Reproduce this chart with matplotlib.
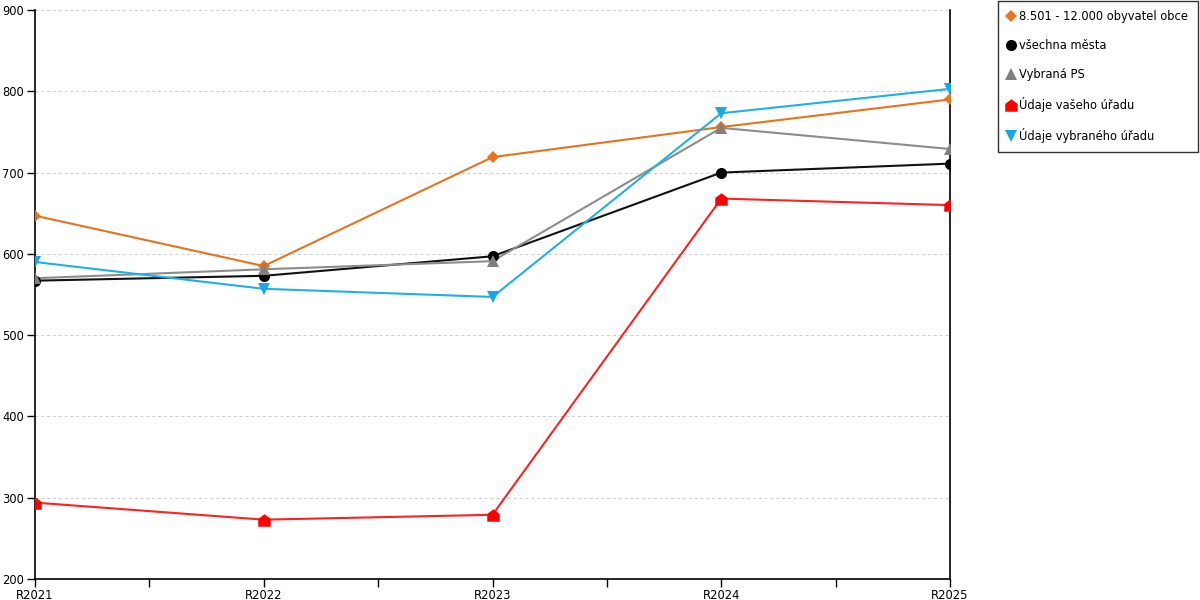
import matplotlib
matplotlib.use("Agg")
import matplotlib.pyplot as plt
from matplotlib.path import Path
from matplotlib.lines import Line2D

categories = ["R2021", "R2022", "R2023", "R2024", "R2025"]
obec = [647, 585, 719, 756, 790]
mesta = [567, 573, 597, 700, 711]
vybrana_ps = [570, 581, 591, 755, 729]
vas_urad = [294, 273, 279, 668, 660]
vybrany_urad = [590, 557, 547, 773, 803]

labels = ["8.501 - 12.000 obyvatel obce", "všechna města", "Vybraná PS",
          "Údaje vašeho úřadu", "Údaje vybraného úřadu"]

house = Path([(-1, -1), (1, -1), (1, 0.25), (0, 1), (-1, 0.25), (-1, -1)],
             [Path.MOVETO, Path.LINETO, Path.LINETO, Path.LINETO, Path.LINETO, Path.CLOSEPOLY])

series = [
    (obec, "#e8731c", "D", 6),
    (mesta, "#000000", "o", 8),
    (vybrana_ps, "#808080", "^", 8),
    (vas_urad, "#ff0000", house, 9),
    (vybrany_urad, "#12a9e6", "v", 9),
]
line_colors = ["#e8731c", "#111111", "#8c8c8c", "#ff2020", "#1fb0ea"]

plt.rcParams['font.family'] = ['DejaVu Sans']
fig = plt.figure(figsize=(12, 6), dpi=100)
ax = fig.add_axes([35 / 1200, 1 - 579 / 600, 915 / 1200, 569 / 600])

x = list(range(len(categories)))
for (vals, c, m, ms), lc in zip(series, line_colors):
    ax.plot(x, vals, color=lc, lw=1.5, zorder=3)
    ax.plot(x, vals, linestyle="none", marker=m, color=c, markersize=ms, zorder=4,
            markeredgewidth=0)

ax.set_xlim(0, 4)
ax.set_ylim(200, 900)
ax.set_yticks(range(200, 901, 100))
ax.set_xticks(x)
ax.set_xticklabels(categories)
ax.set_xticks([0.5, 1.5, 2.5, 3.5], minor=True)
ax.tick_params(axis="x", which="both", direction="out", length=6, width=1, pad=1, labelsize=8.3)
ax.tick_params(axis="y", direction="out", length=6, width=1, pad=2, labelsize=8.3)
ax.grid(axis="y", linestyle=(0, (3, 3)), color="#cccccc", lw=0.7)
ax.spines["top"].set_visible(False)
for s in ["left", "right", "bottom"]:
    ax.spines[s].set_linewidth(1.2)
ax.set_axisbelow(True)

handles = [Line2D([], [], linestyle="none", marker=m, color=c, markersize=ms,
                  markeredgewidth=0) for (vals, c, m, ms) in series]
leg = fig.legend(handles, labels, loc="upper left", bbox_to_anchor=(998 / 1200, 1 - 1 / 600),
                 frameon=True, fancybox=False, edgecolor="#000000", fontsize=8.3,
                 labelspacing=1.38, handlelength=0.6, handletextpad=0.45,
                 borderpad=0.8, borderaxespad=0)
leg.get_frame().set_linewidth(1.0)

fig.savefig("out.png", dpi=100)
